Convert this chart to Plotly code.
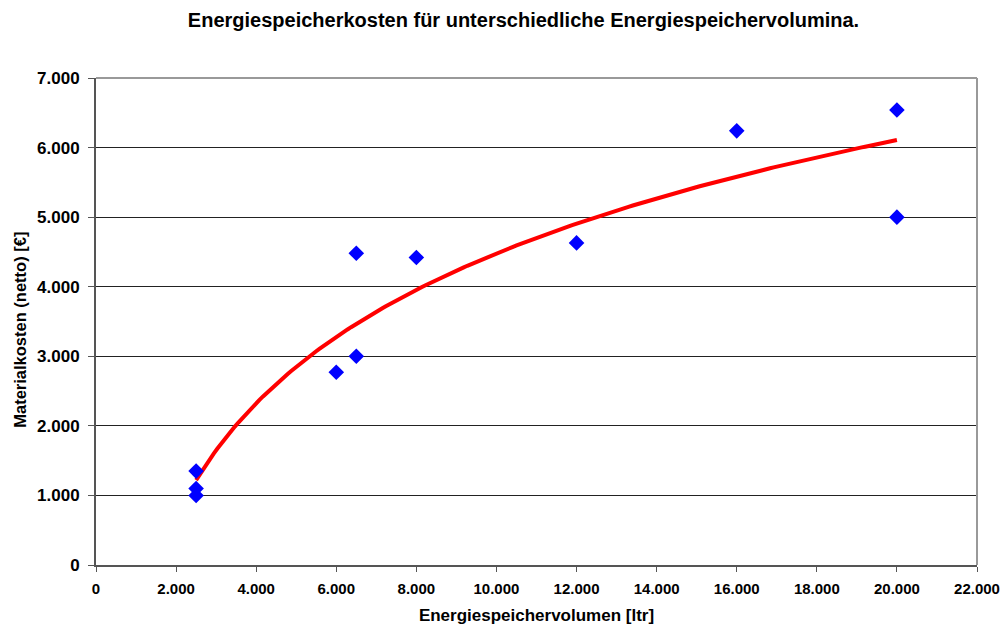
import numpy as np
import plotly.graph_objects as go

# Storage volume [l] and net material cost [€]
volumen = [2500, 2500, 2500, 6000, 6500, 6500, 8000, 12000, 16000, 20000, 20000]
kosten = [1350, 1100, 1000, 2770, 3000, 4480, 4420, 4630, 6240, 6540, 5000]

x_ticks = list(range(0, 22001, 2000))
y_ticks = list(range(0, 7001, 1000))

# Logarithmic trend line (least squares on ln x)
a, b = np.polyfit(np.log(volumen), kosten, 1)
x_fit = np.linspace(min(volumen), max(volumen), 200)
y_fit = a * np.log(x_fit) + b

font = "Liberation Sans, Arial, sans-serif"

fig = go.Figure()
fig.add_trace(go.Scatter(
    x=x_fit, y=y_fit, mode="lines",
    line=dict(color="#ff0000", width=4),
    hoverinfo="skip", showlegend=False,
))
fig.add_trace(go.Scatter(
    x=volumen, y=kosten, mode="markers",
    marker=dict(symbol="diamond", size=12, color="#0000ff", line=dict(width=0)),
    showlegend=False,
))

fig.update_layout(
    width=1000, height=625,
    separators=",.",
    paper_bgcolor="white", plot_bgcolor="white",
    margin=dict(l=96, r=23, t=78, b=60),
    title=dict(
        text="<b>Energiespeicherkosten für unterschiedliche Energiespeichervolumina.</b>",
        x=0.5235, xanchor="center", y=0.968, yanchor="middle",
        font=dict(family=font, size=20, color="black"),
    ),
    font=dict(family=font, color="black"),
)
fig.update_xaxes(
    range=[0, 22000], tickvals=x_ticks, tickformat=",d",
    automargin=False,
    showgrid=False, zeroline=False,
    showline=True, linecolor="#555555", linewidth=2, mirror=False,
    ticks="outside", ticklen=5, tickcolor="#555555", ticklabelstandoff=4,
    tickfont=dict(family=font, size=15, color="black", weight="bold"),
    title=dict(text="<b>Energiespeichervolumen [ltr]</b>", standoff=20,
               font=dict(family=font, size=17, color="black")),
)
fig.update_yaxes(
    range=[0, 7000], tickvals=y_ticks, tickformat=",d",
    automargin=False,
    showgrid=True, gridcolor="#222222", gridwidth=1, zeroline=False,
    showline=True, linecolor="#555555", linewidth=2,
    ticks="outside", ticklen=6, tickcolor="#555555", ticklabelstandoff=5,
    tickfont=dict(family=font, size=17, color="black", weight="bold"),
)
# Y axis title, placed as a rotated annotation
fig.add_annotation(
    text="<b>Materialkosten (netto) [€]</b>", textangle=-90,
    xref="paper", yref="paper", x=0, y=0.483,
    xanchor="center", yanchor="middle", xshift=-76, showarrow=False,
    font=dict(family=font, size=16.5, color="black"),
)
# Gray frame on the right and top edges
fig.add_shape(type="line", xref="paper", yref="paper", x0=1, x1=1, y0=0, y1=1,
              line=dict(color="#999999", width=2))
fig.add_shape(type="line", xref="paper", yref="paper", x0=0, x1=1, y0=1, y1=1,
              line=dict(color="#999999", width=2))

fig.write_html("out.html")
